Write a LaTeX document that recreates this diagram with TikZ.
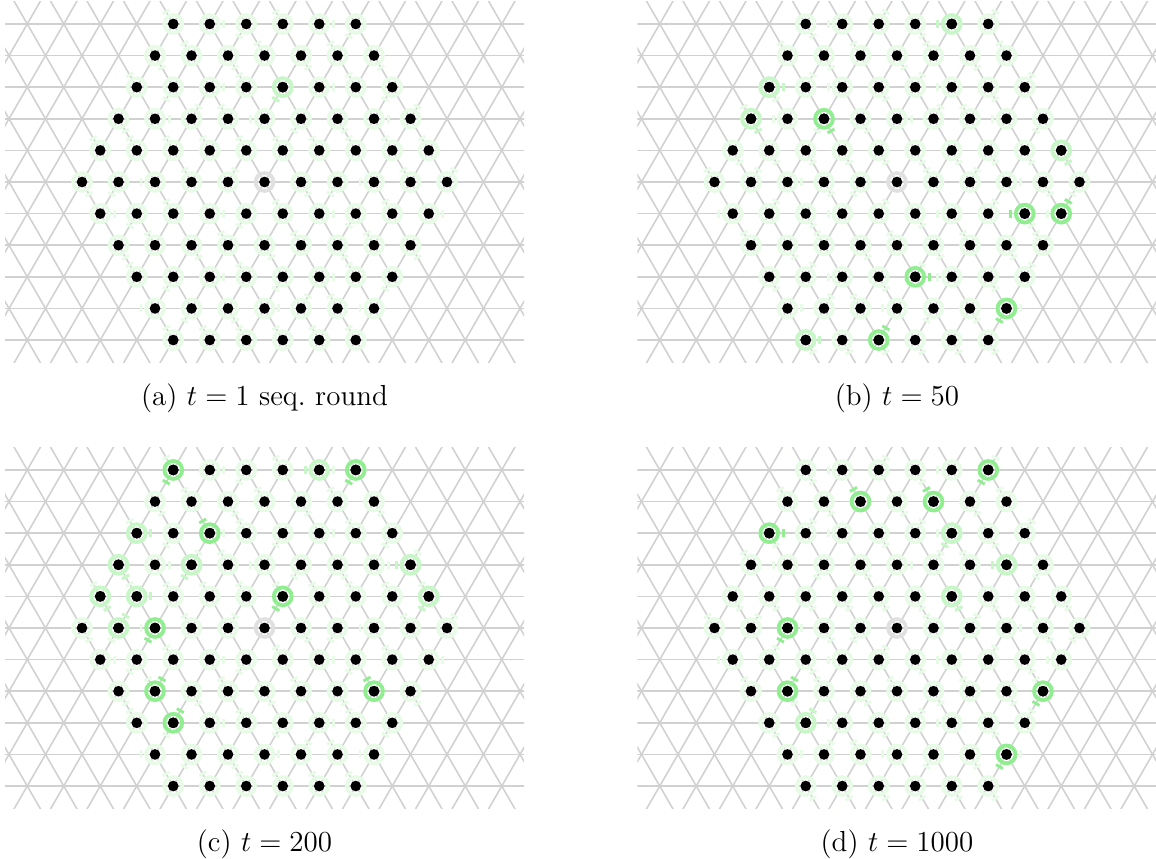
\documentclass[tikz,border=0pt]{standalone}
\usepackage{tikz}
\usetikzlibrary{calc}

\definecolor{antgreen}{RGB}{144,238,144}

\tikzset{
  gridline/.style={black!18, line width=0.65pt},
  halo/.style={line width=1.55pt},
  tickmark/.style={line width=1.2pt},
  caption/.style={font=\large, inner sep=0pt}
}

% one particle: lattice index i, j, tick direction, strength of the green
\newcommand{\antbot}[4]{%
  \coordinate (p) at ({#1+#2/2},{#2*0.866});
  \draw[halo, draw=antgreen!#4] (p) circle (0.245);
  \draw[tickmark, draw=antgreen!#4] ($(p)+(#3:0.385)+(#3+90:0.11)$) -- ($(p)+(#3:0.385)+(#3-90:0.11)$);
  \fill (p) circle (0.146);
}

\begin{document}
\begin{tikzpicture}[x=15.1pt, y=15.1pt]
  \useasboundingbox (0,0) rectangle (31.671,-23.534);

  % 1. Lattice and hexagon of particles, once per panel
  \foreach \cx/\cy/\sd in {7.247/-4.986/0, 24.575/-4.986/1, 7.247/-17.205/2, 24.575/-17.205/3} {
    \begin{scope}[shift={(\cx,\cy)}]
      \clip (-7.11,-4.95) rectangle (7.11,4.95);
      % horizontal lines
      \foreach \j in {-6,...,6}
        \draw[gridline] (-7.5,{\j*0.866}) -- (7.5,{\j*0.866});
      % slanted lines
      \foreach \i in {-11,...,11} {
        \draw[gridline] ({\i-3},-5.196) -- ({\i+3},5.196);
        \draw[gridline] ({\i+3},-5.196) -- ({\i-3},5.196);
      }
      % faint particles
      \foreach \j in {-5,...,5} {
        \pgfmathtruncatemacro\ilo{max(-5,-5-\j)}
        \pgfmathtruncatemacro\ihi{min(5,5-\j)}
        \foreach \i in {\ilo,...,\ihi} {
          \pgfmathtruncatemacro\rr{abs(\i)+abs(\j)}
          \pgfmathtruncatemacro\dir{mod(5*\i+2*\j+\i*\j+3*\sd+90,6)*60}
          \ifnum\rr=0
            \draw[halo, draw=black!12] (0,0) circle (0.245);
            \fill (0,0) circle (0.146);
          \else
            \antbot{\i}{\j}{\dir}{22}
          \fi
        }
      }
    \end{scope}
  }

  % 2. Active particles
  % (a)
  \begin{scope}[shift={(7.247,-4.986)}]
    \foreach \i/\j/\d/\lev in {-1/3/240/50} {
      \antbot{\i}{\j}{\d}{\lev}
    }
  \end{scope}
  % (b)
  \begin{scope}[shift={(24.575,-4.986)}]
    \foreach \i/\j/\d/\lev in {-1/5/180/50, -5/3/0/50, -5/2/300/50, 4/1/300/50, 0/-5/0/50,
                               -3/2/300/100, 4/-1/180/100, 5/-1/60/100, 2/-3/0/100,
                               5/-4/240/100, 2/-5/60/100} {
      \antbot{\i}{\j}{\d}{\lev}
    }
  \end{scope}
  % (c)
  \begin{scope}[shift={(7.247,-17.205)}]
    \foreach \i/\j/\d/\lev in {-1/5/180/50, -5/3/0/50, -5/2/300/50, -3/2/240/50, 3/2/180/50,
                               -5/1/300/50, -4/1/0/50, 4/1/240/50, -4/0/60/50,
                               -5/5/240/100, 0/5/240/100, -3/3/120/100, 0/1/240/100,
                               -3/0/240/100, -2/-2/60/100, 4/-2/120/100, -1/-3/60/100} {
      \antbot{\i}{\j}{\d}{\lev}
    }
  \end{scope}
  % (d)
  \begin{scope}[shift={(24.575,-17.205)}]
    \foreach \i/\j/\d/\lev in {0/3/240/50, 2/2/180/50, 1/1/300/50, -1/-3/60/50,
                               0/5/240/100, -3/4/120/100, -1/4/120/100, -5/3/0/100,
                               -3/0/240/100, -2/-2/60/100, 5/-2/240/100, 5/-4/240/100} {
      \antbot{\i}{\j}{\d}{\lev}
    }
  \end{scope}

  % 3. Captions
  \node[caption] (capa) at (7.247,-10.904) {(a) $t=1$ seq.\ round};
  \node[caption] (capb) at (24.575,-10.904) {(b) $t=50$};
  \node[caption] (capc) at (7.247,-23.123) {(c) $t=200$};
  \node[caption] (capd) at (24.575,-23.123) {(d) $t=1000$};
\end{tikzpicture}
\end{document}
